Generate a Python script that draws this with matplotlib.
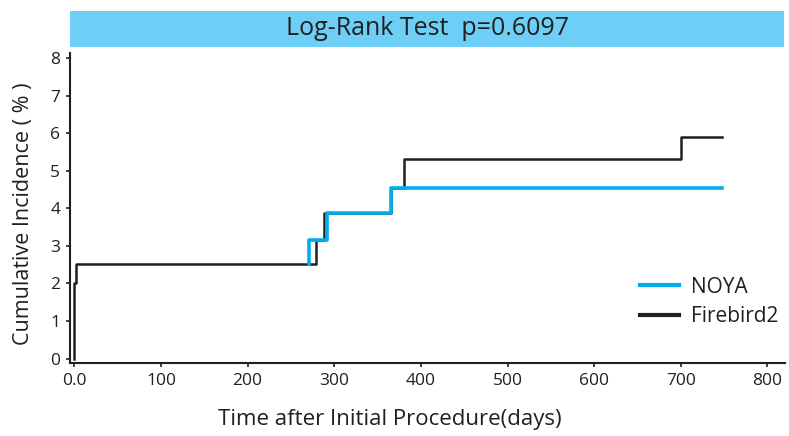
import matplotlib.pyplot as plt
from matplotlib.patches import Rectangle

# step points (days, cumulative incidence %)
noya_days = [271, 271, 292, 292, 366, 366, 748]
noya_inc = [2.52, 3.17, 3.17, 3.88, 3.88, 4.55, 4.55]

fire_days = [0, 0, 2, 2, 279, 279, 288, 288, 366, 366, 380, 380, 700, 700, 748]
fire_inc = [0, 2.0, 2.0, 2.52, 2.52, 3.17, 3.17, 3.88, 3.88, 4.55, 4.55, 5.31, 5.31, 5.89, 5.89]

x_ticks = [0, 100, 200, 300, 400, 500, 600, 700, 800]
x_labels = ['0.0', '100', '200', '300', '400', '500', '600', '700', '800']
y_ticks = [0, 1, 2, 3, 4, 5, 6, 7, 8]

title = 'Log-Rank Test  p=0.6097'
txt = '#231f20'
blue = '#00aeef'

plt.rcParams['font.family'] = ['Open Sans', 'DejaVu Sans']

fig = plt.figure(figsize=(7.89, 4.36), dpi=100)
ax = fig.add_axes([0.0887, 0.1674, 0.906, 0.711])

ax.plot(fire_days, fire_inc, color=txt, lw=1.8, label='Firebird2', zorder=2)
ax.plot(noya_days, noya_inc, color=blue, lw=2.6, label='NOYA', zorder=3)

ax.set_xlim(-5, 820)
ax.set_ylim(-0.12, 8.14)
ax.set_xticks(x_ticks)
ax.set_xticklabels(x_labels)
ax.set_yticks(y_ticks)

for s in ['top', 'right']:
    ax.spines[s].set_visible(False)
for s in ['left', 'bottom']:
    ax.spines[s].set_linewidth(1.5)
    ax.spines[s].set_color(txt)
ax.tick_params(direction='out', length=3, width=1.2, colors=txt, labelsize=12.5, pad=4)

ax.set_xlabel('Time after Initial Procedure(days)', fontsize=16, color=txt)
ax.xaxis.set_label_coords(0.447, -0.148)
ax.set_ylabel('Cumulative Incidence ( % )', fontsize=15.5, color=txt)
ax.yaxis.set_label_coords(-0.051, 0.48)

h, l = ax.get_legend_handles_labels()
leg = ax.legend([h[1], h[0]], [l[1], l[0]], loc='upper left', bbox_to_anchor=(0.797, 0.279),
                frameon=False, fontsize=15, handlelength=1.9, handletextpad=0.55,
                labelspacing=0.4, borderpad=0, borderaxespad=0)
for line in leg.get_lines():
    line.set_linewidth(3)
for t in leg.get_texts():
    t.set_color(txt)

# blue title band
fig.patches.append(Rectangle((0.0887, 0.892), 0.905, 0.083, transform=fig.transFigure,
                             facecolor='#6dcff6', edgecolor='none'))
fig.text(0.542, 0.934, title, ha='center', va='center', fontsize=18, color=txt)

fig.savefig('out.png', dpi=100)
